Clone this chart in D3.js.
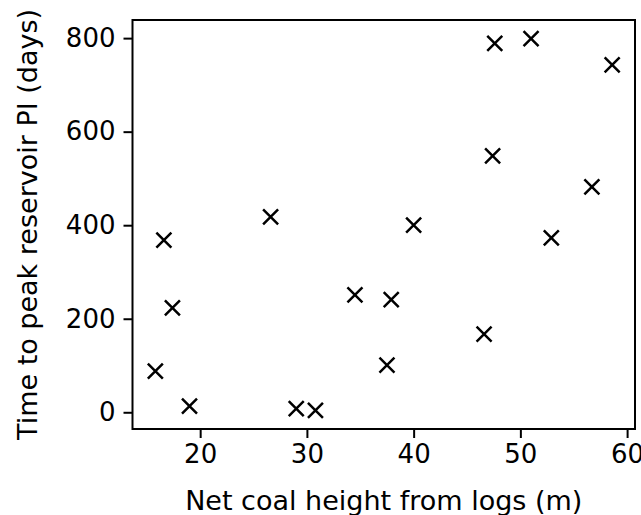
<!DOCTYPE html>
<html>
<head>
<meta charset="utf-8">
<script src="https://cdn.jsdelivr.net/npm/d3@7"></script>
<style>
  body { margin: 0; background: #fff; }
  svg text { font-family: "DejaVu Sans", sans-serif; fill: #000; }
</style>
</head>
<body>
<svg id="chart" width="641" height="515"></svg>
<script>
// Net coal height from logs (m)
const coalHeight = [16.6, 26.6, 17.4, 15.8, 19.0, 29.0, 30.8, 40.0, 34.5, 37.9,
                    46.6, 37.5, 47.6, 51.0, 58.6, 47.4, 56.7, 52.9];
// Time to peak reservoir PI (days)
const peakTime = [368, 418, 223, 88, 13, 8, 4, 400, 251, 241,
                  167, 101, 789, 799, 743, 548, 482, 373];
const xTicks = [20, 30, 40, 50, 60];
const yTicks = [0, 200, 400, 600, 800];

const points = coalHeight.map((x, i) => ({ x: x, y: peakTime[i] }));

const svg = d3.select('#chart');
const margin = { left: 132.5, right: 6, top: 20, bottom: 86 };
const width = 641 - margin.left - margin.right;
const height = 515 - margin.top - margin.bottom;
const tickFont = 26;
const labelFont = 27;

// Matplotlib-style 5% padding around the data extent
function padded(values) {
    const [lo, hi] = d3.extent(values);
    const pad = (hi - lo) * 0.05;
    return [lo - pad, hi + pad];
}

const x = d3.scaleLinear().domain(padded(coalHeight)).range([0, width]);
const y = d3.scaleLinear().domain(padded(peakTime)).range([height, 0]);

const g = svg.append('g').attr('transform', `translate(${margin.left},${margin.top})`);

// Axes
const xAxis = g.append('g')
    .attr('transform', `translate(0,${height})`)
    .call(d3.axisBottom(x).tickValues(xTicks).tickSize(9).tickPadding(7));
const yAxis = g.append('g')
    .call(d3.axisLeft(y).tickValues(yTicks).tickSize(9).tickPadding(8));

[xAxis, yAxis].forEach(ax => {
    ax.select('.domain').remove();
    ax.selectAll('.tick line').attr('stroke', '#000').attr('stroke-width', 2);
    ax.selectAll('.tick text')
        .attr('font-size', tickFont)
        .attr('font-family', '"DejaVu Sans", sans-serif')
        .attr('fill', '#000');
});

// Frame around the plot area
g.append('rect')
    .attr('x', 0).attr('y', 0)
    .attr('width', width).attr('height', height)
    .attr('fill', 'none')
    .attr('stroke', '#000')
    .attr('stroke-width', 2);

// X markers
const s = 7.5;
g.selectAll('.marker')
    .data(points)
    .enter().append('path')
    .attr('class', 'marker')
    .attr('transform', d => `translate(${x(d.x)},${y(d.y)})`)
    .attr('d', `M${-s},${-s}L${s},${s}M${-s},${s}L${s},${-s}`)
    .attr('stroke', '#000')
    .attr('stroke-width', 2.5)
    .attr('fill', 'none');

// Axis labels
svg.append('text')
    .attr('x', margin.left + width / 2)
    .attr('y', 510)
    .attr('text-anchor', 'middle')
    .attr('font-size', labelFont)
    .text('Net coal height from logs (m)');

svg.append('text')
    .attr('transform', `translate(37,${margin.top + height / 2}) rotate(-90)`)
    .attr('text-anchor', 'middle')
    .attr('font-size', labelFont)
    .text('Time to peak reservoir PI (days)');
</script>
</body>
</html>
